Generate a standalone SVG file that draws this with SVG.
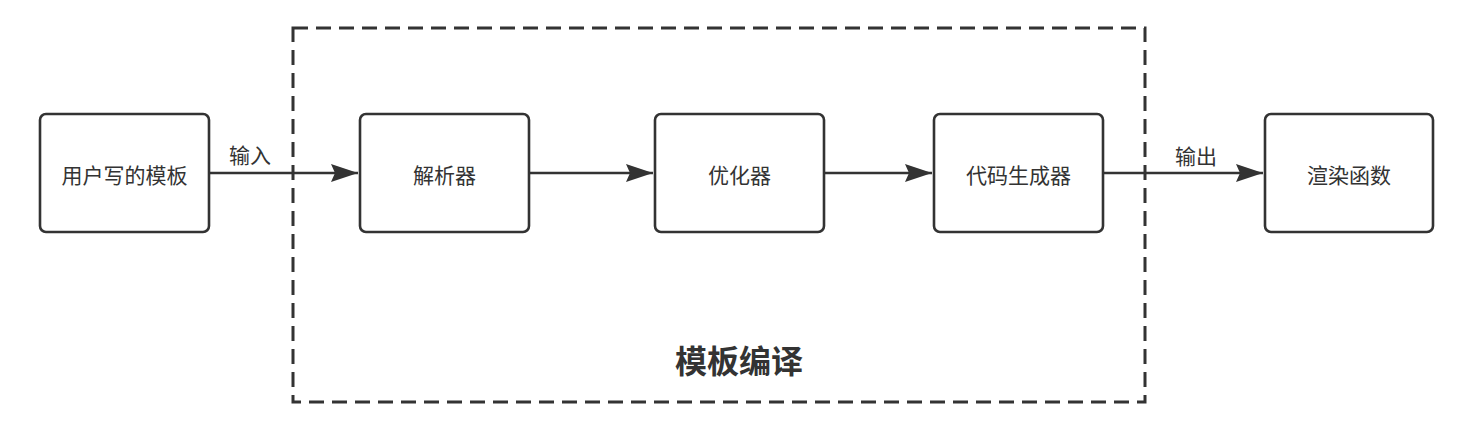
<svg xmlns="http://www.w3.org/2000/svg" width="1476" height="442" viewBox="0 0 1476 442">
  <style>
    .box { fill: #ffffff; stroke: #333333; stroke-width: 2.6; }
    .lbl { font-family: "Liberation Sans", "Noto Sans CJK SC", sans-serif; font-size: 21px; fill: #333333; text-anchor: middle; }
    .title { font-family: "Liberation Sans", "Noto Sans CJK SC", sans-serif; font-size: 32px; font-weight: bold; fill: #333333; text-anchor: middle; }
    .edge { stroke: #333333; stroke-width: 2.6; fill: none; }
    .group { fill: none; stroke: #333333; stroke-width: 3; stroke-dasharray: 15 8; }
  </style>
  <defs>
    <marker id="arrow" markerUnits="userSpaceOnUse" markerWidth="30" markerHeight="20" refX="27" refY="9" orient="auto">
      <path d="M0,0 L27,9 L0,18 L4,9 Z" fill="#333333" stroke="none"/>
    </marker>
  </defs>
  <rect width="1476" height="442" fill="#ffffff"/>

  <g id="group-template-compile">
    <rect class="group" x="293" y="28" width="852" height="374"/>
    <text class="title" x="739" y="373">模板编译</text>
  </g>

  <g id="connectors">
    <line class="edge" x1="209" y1="173" x2="358" y2="173" marker-end="url(#arrow)"/>
    <text class="lbl" x="250" y="163">输入</text>
    <line class="edge" x1="529" y1="173" x2="653" y2="173" marker-end="url(#arrow)"/>
    <line class="edge" x1="824" y1="173" x2="932" y2="173" marker-end="url(#arrow)"/>
    <line class="edge" x1="1103" y1="173" x2="1263" y2="173" marker-end="url(#arrow)"/>
    <text class="lbl" x="1196" y="164">输出</text>
  </g>

  <g id="node-user-template">
    <rect class="box" x="40" y="114" width="169" height="118" rx="6" ry="6"/>
    <text class="lbl" x="124.5" y="183">用户写的模板</text>
  </g>
  <g id="node-parser">
    <rect class="box" x="360" y="114" width="169" height="118" rx="6" ry="6"/>
    <text class="lbl" x="444.5" y="183">解析器</text>
  </g>
  <g id="node-optimizer">
    <rect class="box" x="655" y="114" width="169" height="118" rx="6" ry="6"/>
    <text class="lbl" x="739.5" y="183">优化器</text>
  </g>
  <g id="node-codegen">
    <rect class="box" x="934" y="114" width="169" height="118" rx="6" ry="6"/>
    <text class="lbl" x="1018.5" y="183">代码生成器</text>
  </g>
  <g id="node-render">
    <rect class="box" x="1265" y="114" width="168" height="118" rx="6" ry="6"/>
    <text class="lbl" x="1349" y="183">渲染函数</text>
  </g>
</svg>
